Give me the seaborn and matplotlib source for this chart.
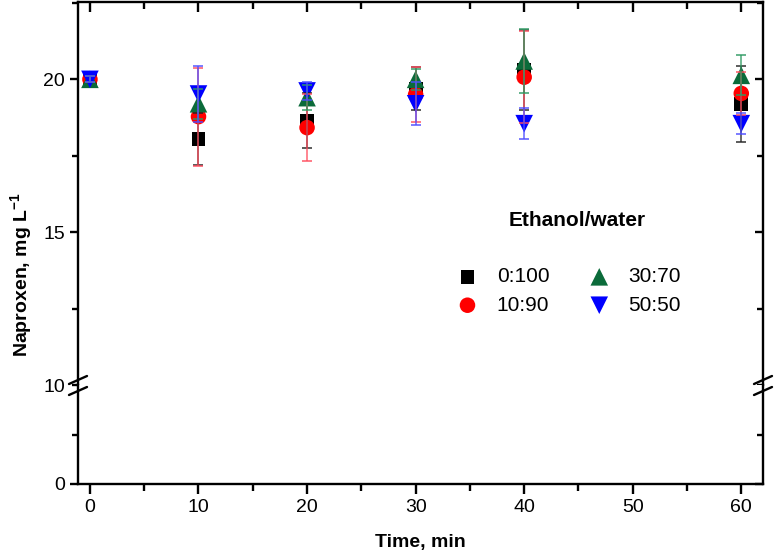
import numpy as np
import pandas as pd
import matplotlib.pyplot as plt
import seaborn as sns
from matplotlib.lines import Line2D
from matplotlib.ticker import MultipleLocator

# Set style
sns.set_style('ticks')
plt.rcParams['font.family'] = ['Liberation Sans', 'DejaVu Sans']
plt.rcParams['mathtext.fontset'] = 'custom'
plt.rcParams['mathtext.rm'] = 'Liberation Sans'
plt.rcParams['mathtext.bf'] = 'Liberation Sans:bold'
for key in ['text.color', 'axes.labelcolor', 'xtick.color', 'ytick.color', 'axes.edgecolor']:
    plt.rcParams[key] = 'black'

# Data
time_min = [0, 10, 20, 30, 40, 60]
ratios = ['0:100', '10:90', '30:70', '50:50']

conc_0_100 = [20.0, 18.06, 18.65, 19.70, 20.30, 19.20]
conc_10_90 = [20.0, 18.78, 18.42, 19.50, 20.07, 19.54]
conc_30_70 = [20.0, 19.20, 19.40, 20.00, 20.60, 20.13]
conc_50_50 = [20.0, 19.52, 19.62, 19.20, 18.55, 18.55]

err_0_100 = [0.10, 0.85, 0.90, 0.70, 1.30, 1.25]
err_10_90 = [0.10, 1.60, 1.10, 0.90, 1.50, 0.70]
err_30_70 = [0.10, 0.50, 0.40, 0.35, 1.05, 0.65]
err_50_50 = [0.10, 0.90, 0.30, 0.70, 0.50, 0.35]

colors = ['#000000', '#ff0000', '#0b6b3a', '#0000ff']
err_colors = ['#222222', '#ff4d5e', '#2e9a62', '#4d4dff']
markers = ['s', 'o', '^', 'v']
sizes = [100, 125, 160, 160]

conc = [conc_0_100, conc_10_90, conc_30_70, conc_50_50]
errs = [err_0_100, err_10_90, err_30_70, err_50_50]

df = pd.DataFrame({
    'time': np.tile(time_min, len(ratios)),
    'conc': np.concatenate(conc),
    'err': np.concatenate(errs),
    'ratio': np.repeat(ratios, len(time_min)),
})

fig = plt.figure(figsize=(7.75, 5.57), dpi=100)
left, right = 78 / 775, 763 / 775
y_top, y_brk, y_bot = 1 - 2 / 557, 1 - 385 / 557, 1 - 484 / 557
ax_top = fig.add_axes([left, y_brk, right - left, y_top - y_brk])
ax_bot = fig.add_axes([left, y_bot, right - left, y_brk - y_bot])

# markers
for i, r in enumerate(ratios):
    sub = df[df['ratio'] == r]
    sns.scatterplot(x=sub['time'], y=sub['conc'], marker=markers[i], color=colors[i],
                    s=sizes[i], edgecolor='none', linewidth=0, label=r,
                    ax=ax_top, zorder=3 + i, clip_on=False)
# error bars on top
for i, r in enumerate(ratios):
    sub = df[df['ratio'] == r]
    ax_top.errorbar(sub['time'], sub['conc'], yerr=sub['err'], fmt='none',
                    ecolor=err_colors[i], elinewidth=1.2, capsize=3.5, capthick=1.3,
                    alpha=0.8, zorder=8, clip_on=False)

lw = 1.7
fs = 14
for ax in (ax_top, ax_bot):
    ax.set_xlim(-1.1, 62)
    ax.xaxis.set_major_locator(MultipleLocator(10))
    ax.xaxis.set_minor_locator(MultipleLocator(5))
    for s in ax.spines.values():
        s.set_linewidth(lw)
        s.set_color('black')
    ax.set_xlabel('')
    ax.set_ylabel('')

ax_top.set_ylim(10, 22.53)
ax_top.set_yticks([15, 20])
ax_top.yaxis.set_minor_locator(MultipleLocator(2.5))
ax_top.spines['bottom'].set_visible(False)
ax_top.tick_params(axis='x', which='both', bottom=False, labelbottom=False,
                   top=True, direction='in')
ax_top.tick_params(axis='x', which='major', length=7, width=lw)
ax_top.tick_params(axis='x', which='minor', length=5, width=lw)
ax_top.tick_params(axis='y', which='both', left=True, right=True, labelsize=fs)
ax_top.tick_params(axis='y', which='major', length=6, width=lw)
ax_top.tick_params(axis='y', which='minor', length=4, width=lw)

ax_bot.set_ylim(0, 10)
ax_bot.set_yticks([0, 10])
ax_bot.yaxis.set_minor_locator(MultipleLocator(5))
ax_bot.spines['top'].set_visible(False)
ax_bot.tick_params(axis='x', which='both', top=False, bottom=True, direction='out',
                   labelsize=fs)
ax_bot.tick_params(axis='x', which='major', length=7, width=lw)
ax_bot.tick_params(axis='x', which='minor', length=5, width=lw)
ax_bot.tick_params(axis='y', which='both', left=True, right=True, labelsize=fs)
ax_bot.tick_params(axis='y', which='major', length=6, width=lw)
ax_bot.tick_params(axis='y', which='minor', length=4, width=lw)
# inward ticks on the right side
for ax in (ax_top, ax_bot):
    majors = ax.yaxis.get_major_ticks()
    for t in majors + ax.yaxis.get_minor_ticks():
        t.tick2line.set_marker(0)
        t.tick2line.set_markersize(6 if t in majors else 4)
ax_bot.yaxis.get_major_ticks()[1].tick1line.set_visible(False)
ax_bot.yaxis.get_major_ticks()[1].tick2line.set_visible(False)

# axis break marks
dx, dy = 9 / 775, 4 / 557
for xb in (left, right):
    for off in (5 / 557, -6 / 557):
        yc = y_brk + off
        fig.add_artist(Line2D([xb - dx, xb + dx], [yc - dy, yc + dy],
                              transform=fig.transFigure, color='black', lw=1.7))

ax_bot.set_xlabel('Time, min', fontsize=fs, fontweight='bold', labelpad=13)
fig.text(0.028, 1 - 275 / 557, r'Naproxen, mg L$^{\mathbf{-1}}$', rotation=90,
         ha='center', va='center', fontsize=fs, fontweight='bold')

# legend
fig.text(577 / 775, 1 - 220 / 557, 'Ethanol/water', ha='center', va='center',
         fontsize=15, fontweight='bold')
ax_top.legend(ncol=2, frameon=False, loc='center', bbox_to_anchor=(569 / 775, 1 - 291 / 557),
              bbox_transform=fig.transFigure, fontsize=15, handlelength=1.0,
              handletextpad=0.9, columnspacing=1.9, labelspacing=0.45,
              markerscale=1.0)

fig.savefig('out.png', dpi=100)
